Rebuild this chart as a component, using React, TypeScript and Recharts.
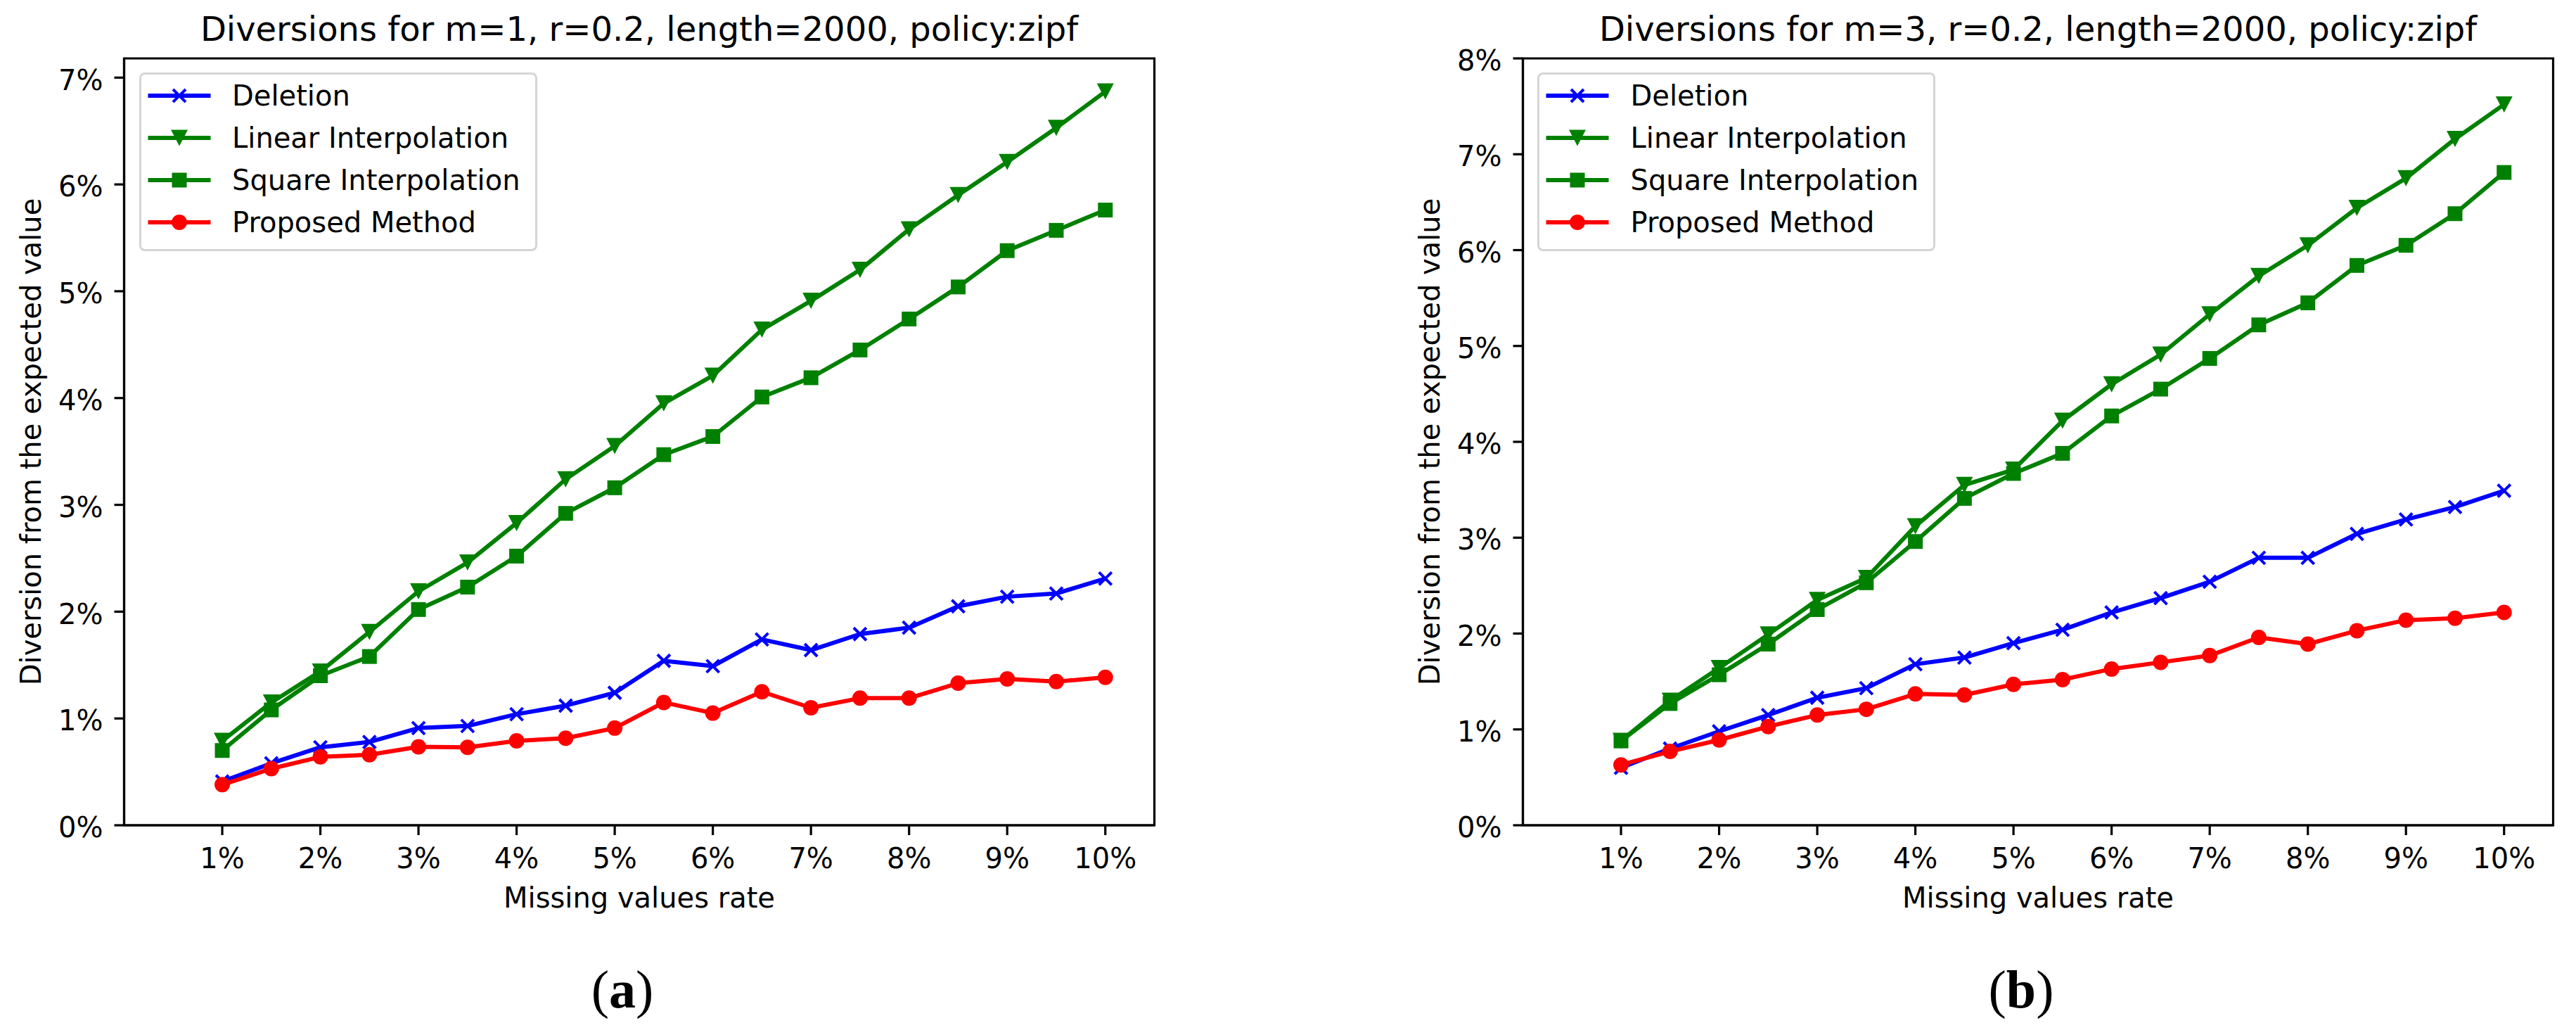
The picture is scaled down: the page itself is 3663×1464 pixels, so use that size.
import { Legend, Line, LineChart, ReferenceArea, XAxis, YAxis } from "recharts";

const rates = [1, 1.5, 2, 2.5, 3, 3.5, 4, 4.5, 5, 5.5, 6, 6.5, 7, 7.5, 8, 8.5, 9, 9.5, 10];
const xTicks = [1, 2, 3, 4, 5, 6, 7, 8, 9, 10];

// panel (a): m=1
const deletionA = [0.41, 0.58, 0.73, 0.78, 0.91, 0.93, 1.04, 1.12, 1.24, 1.54, 1.49, 1.74, 1.64, 1.79, 1.85, 2.05, 2.14, 2.17, 2.31];
const linearA = [0.79, 1.15, 1.44, 1.81, 2.19, 2.46, 2.83, 3.24, 3.55, 3.95, 4.21, 4.64, 4.91, 5.2, 5.58, 5.9, 6.21, 6.53, 6.87];
const squareA = [0.7, 1.08, 1.4, 1.58, 2.02, 2.23, 2.52, 2.92, 3.16, 3.47, 3.64, 4.01, 4.19, 4.45, 4.74, 5.04, 5.38, 5.57, 5.76];
const proposedA = [0.38, 0.53, 0.64, 0.66, 0.735, 0.73, 0.79, 0.815, 0.91, 1.15, 1.05, 1.25, 1.1, 1.19, 1.19, 1.33, 1.37, 1.345, 1.385];
const yTicksA = [0, 1, 2, 3, 4, 5, 6, 7];

// panel (b): m=3
const deletionB = [0.6, 0.8, 0.98, 1.15, 1.33, 1.43, 1.68, 1.75, 1.9, 2.04, 2.22, 2.37, 2.54, 2.79, 2.79, 3.04, 3.19, 3.32, 3.49];
const linearB = [0.88, 1.3, 1.64, 1.99, 2.35, 2.58, 3.12, 3.55, 3.71, 4.22, 4.6, 4.91, 5.33, 5.73, 6.05, 6.44, 6.75, 7.16, 7.52];
const squareB = [0.88, 1.27, 1.57, 1.89, 2.25, 2.53, 2.96, 3.41, 3.67, 3.88, 4.27, 4.55, 4.87, 5.22, 5.45, 5.84, 6.05, 6.38, 6.81];
const proposedB = [0.63, 0.77, 0.89, 1.03, 1.15, 1.21, 1.37, 1.36, 1.47, 1.52, 1.63, 1.7, 1.77, 1.96, 1.89, 2.03, 2.14, 2.16, 2.22];
const yTicksB = [0, 1, 2, 3, 4, 5, 6, 7, 8];

const series = [
	{ key: "deletion", name: "Deletion", color: "#0000ff", marker: "x" },
	{ key: "linear", name: "Linear Interpolation", color: "#008000", marker: "v" },
	{ key: "square", name: "Square Interpolation", color: "#008000", marker: "s" },
	{ key: "proposed", name: "Proposed Method", color: "#ff0000", marker: "o" },
];

const FONT = "'DejaVu Sans', sans-serif";
const tickStyle = { fontSize: 40, fontFamily: FONT, fill: "#000" };

function buildData(del: number[], lin: number[], sq: number[], prop: number[]) {
	return rates.map((x, i) => ({ x, deletion: del[i], linear: lin[i], square: sq[i], proposed: prop[i] }));
}

function Marker({ shape, cx, cy, color }: { shape: string; cx: number; cy: number; color: string }) {
	if (shape === "x") {
		return (
			<g stroke={color} strokeWidth={4}>
				<line x1={cx - 9} y1={cy - 9} x2={cx + 9} y2={cy + 9} />
				<line x1={cx - 9} y1={cy + 9} x2={cx + 9} y2={cy - 9} />
			</g>
		);
	}
	if (shape === "v") {
		return <polygon points={`${cx - 12},${cy - 11.5} ${cx + 12},${cy - 11.5} ${cx},${cy + 11.5}`} fill={color} />;
	}
	if (shape === "s") {
		return <rect x={cx - 10.5} y={cy - 10.5} width={21} height={21} fill={color} />;
	}
	return <circle cx={cx} cy={cy} r={11} fill={color} />;
}

function LegendBox() {
	return (
		<div
			style={{
				boxSizing: "border-box",
				width: 566,
				height: 254,
				border: "3px solid #d5d5d5",
				borderRadius: 8,
				background: "#fff",
				fontFamily: FONT,
				fontSize: 40,
				color: "#000",
			}}
		>
			{series.map((s) => (
				<div key={s.key} style={{ height: 60, display: "flex", alignItems: "center" }}>
					<svg width={129.5} height={60} style={{ flexShrink: 0 }}>
						<line x1={9.5} y1={30} x2={98.5} y2={30} stroke={s.color} strokeWidth={6} />
						<Marker shape={s.marker} cx={54} cy={30} color={s.color} />
					</svg>
					<span style={{ whiteSpace: "nowrap" }}>{s.name}</span>
				</div>
			))}
		</div>
	);
}

function Panel({
	left,
	width,
	title,
	tag,
	data,
	yMax,
	yTicks,
}: {
	left: number;
	width: number;
	title: string;
	tag: string;
	data: ReturnType<typeof buildData>;
	yMax: number;
	yTicks: number[];
}) {
	const rightMargin = width - 176.5 - 1465;
	const cx = 176.5 + 1465 / 2;
	return (
		<div style={{ position: "absolute", left, top: 0, width, height: 1464 }}>
			<LineChart width={width} height={1464} data={data} margin={{ top: 83, right: rightMargin, bottom: 191, left: 6.5 }}>
				<XAxis
					dataKey="x"
					type="number"
					domain={[0, 10.5]}
					ticks={xTicks}
					interval={0}
					height={100}
					tickFormatter={(v) => `${v}%`}
					tick={tickStyle}
					tickSize={14}
					tickMargin={19}
					axisLine={{ stroke: "#000", strokeWidth: 3.2 }}
					tickLine={{ stroke: "#000", strokeWidth: 3.2 }}
				/>
				<YAxis
					type="number"
					domain={[0, yMax]}
					ticks={yTicks}
					interval={0}
					width={170}
					allowDataOverflow
					tickFormatter={(v) => `${v}%`}
					tick={{ ...tickStyle, dy: 3 }}
					tickSize={14}
					tickMargin={16}
					axisLine={{ stroke: "#000", strokeWidth: 3.2 }}
					tickLine={{ stroke: "#000", strokeWidth: 3.2 }}
				/>
				{/* axes frame */}
				<ReferenceArea x1={0} x2={10.5} y1={0} y2={yMax} fill="none" fillOpacity={0} stroke="#000" strokeWidth={3.2} ifOverflow="visible" />
				<Legend
					layout="vertical"
					align="center"
					verticalAlign="middle"
					content={() => <LegendBox />}
					wrapperStyle={{ left: 197.5, top: 103, width: 566, height: 254 }}
				/>
				{series.map((s) => (
					<Line
						key={s.key}
						type="linear"
						dataKey={s.key}
						name={s.name}
						stroke={s.color}
						strokeWidth={6}
						strokeLinejoin="round"
						isAnimationActive={false}
						dot={(p: any) => <Marker key={`${s.key}-${p.index}`} shape={s.marker} cx={p.cx} cy={p.cy} color={s.color} />}
						activeDot={false}
					/>
				))}
			</LineChart>
			<svg width={width} height={1464} style={{ position: "absolute", left: 0, top: 0, pointerEvents: "none" }}>
				<text x={cx} y={58} textAnchor="middle" fontFamily={FONT} fontSize={48}>
					{title}
				</text>
				<text x={cx} y={1290} textAnchor="middle" fontFamily={FONT} fontSize={40}>
					Missing values rate
				</text>
				<text x={58} y={628} transform="rotate(-90 58 628)" textAnchor="middle" fontFamily={FONT} fontSize={40}>
					Diversion from the expected value
				</text>
				<text x={885} y={1432} textAnchor="middle" fontFamily="'Liberation Serif', serif" fontSize={76}>
					(<tspan fontWeight="bold">{tag}</tspan>)
				</text>
			</svg>
		</div>
	);
}

export default function App() {
	const dataA = buildData(deletionA, linearA, squareA, proposedA);
	const dataB = buildData(deletionB, linearB, squareB, proposedB);
	return (
		<div style={{ position: "absolute", left: 0, top: 0, width: 3663, height: 1464, background: "#fff" }}>
			<Panel left={0} width={1700} title="Diversions for m=1, r=0.2, length=2000, policy:zipf" tag="a" data={dataA} yMax={7.18} yTicks={yTicksA} />
			<Panel left={1988.5} width={1674.5} title="Diversions for m=3, r=0.2, length=2000, policy:zipf" tag="b" data={dataB} yMax={8} yTicks={yTicksB} />
		</div>
	);
}
